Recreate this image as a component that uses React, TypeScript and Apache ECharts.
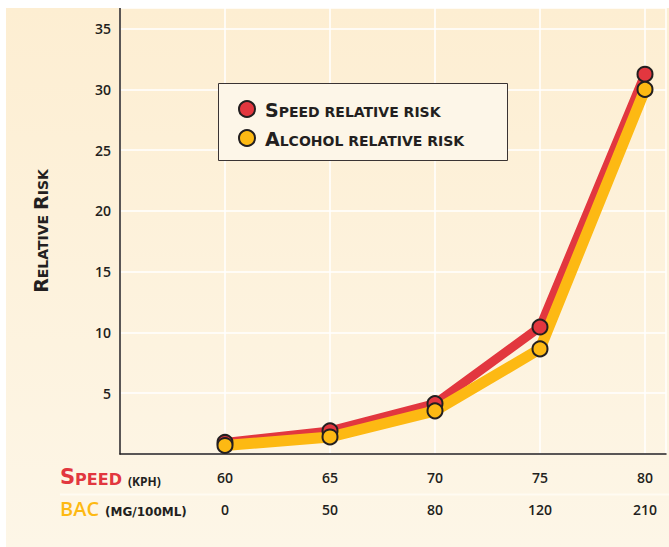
import React, { useEffect, useRef } from "react";
import * as echarts from "echarts";

const speeds = [60, 65, 70, 75, 80];
const bacLevels = [0, 50, 80, 120, 210];
const speedRisk = [0.95, 1.9, 4.15, 10.45, 31.25];
const alcoholRisk = [0.7, 1.4, 3.55, 8.65, 30.0];
const yTicks = [5, 10, 15, 20, 25, 30, 35];

const RED = "#e2373f";
const YELLOW = "#fdb913";
const DARK = "#231f20";
const FONT = "'Open Sans', sans-serif";
const CAPS = "'DejaVu Sans', sans-serif";

export default function App() {
  const ref = useRef<HTMLDivElement>(null);
  useEffect(() => {
    if (!ref.current) return;
    const chart = echarts.init(ref.current, null, { renderer: "svg" });
    const capsStyles = {
      b: { fontSize: 19, fontWeight: "bold", color: DARK, fontFamily: CAPS, lineHeight: 20, verticalAlign: "bottom" },
      s: { fontSize: 14, fontWeight: "bold", color: DARK, fontFamily: CAPS, lineHeight: 20, verticalAlign: "bottom" },
    };
    const axisCaps = {
      b: { fontSize: 19, fontWeight: "bold", color: DARK, fontFamily: CAPS, lineHeight: 20, verticalAlign: "bottom" },
      s: { fontSize: 14, fontWeight: "bold", color: DARK, fontFamily: CAPS, lineHeight: 20, verticalAlign: "bottom" },
    };
    const smallCaps = (t: string) => `{b|${t[0]}}{s|${t.slice(1).toUpperCase()}}`;
    chart.setOption({
      animation: false,
      backgroundColor: new echarts.graphic.LinearGradient(0, 0, 0, 1, [
        { offset: 0, color: "#fdeed2" },
        { offset: 1, color: "#fdf6e7" },
      ]),
      grid: { left: 114, right: 0, top: 0, bottom: 93 },
      xAxis: {
        type: "value",
        min: 55,
        max: 81,
        interval: 5,
        axisLine: { show: true, lineStyle: { color: DARK, width: 1.5 } },
        axisTick: { show: false },
        splitLine: { show: true, lineStyle: { color: "#ffffff", width: 1.5 } },
        axisLabel: {
          margin: 7,
          formatter: (v: number) => {
            const i = speeds.indexOf(v);
            return i < 0 ? "" : `{a|${speeds[i]}}\n{a|${bacLevels[i]}}`;
          },
          rich: {
            a: { fontSize: 14, fontWeight: 600, color: DARK, fontFamily: FONT, lineHeight: 32 },
          },
        },
      },
      yAxis: {
        type: "value",
        min: 0,
        max: 36.7,
        interval: 5,
        name: "{b|R}{s|ELATIVE }{b|R}{s|ISK}",
        nameLocation: "middle",
        nameRotate: 90,
        nameGap: 70,
        nameTextStyle: { rich: axisCaps },
        axisLine: { show: true, lineStyle: { color: DARK, width: 1.5 } },
        axisTick: { show: false },
        splitLine: { show: true, lineStyle: { color: "#ffffff", width: 1.5 } },
        axisLabel: {
          margin: 9,
          fontSize: 14,
          fontWeight: 600,
          color: DARK,
          fontFamily: FONT,
          formatter: (v: number) => (yTicks.indexOf(v) >= 0 ? String(v) : ""),
        },
      },
      legend: {
        z: 5,
        left: 232,
        top: 91,
        orient: "vertical",
        padding: 0,
        itemGap: 9,
        itemWidth: 26,
        itemHeight: 16,
        icon: "circle",
        formatter: (name: string) => smallCaps(name),
        textStyle: { rich: capsStyles, lineHeight: 20 },
        data: [
          { name: "Speed relative risk", itemStyle: { color: RED, borderColor: DARK, borderWidth: 2 } },
          { name: "Alcohol relative risk", itemStyle: { color: YELLOW, borderColor: DARK, borderWidth: 2 } },
        ],
      },
      graphic: [
        {
          type: "rect",
          z: 3,
          shape: { x: 212.5, y: 75.5, width: 289, height: 77 },
          style: { fill: "#fdf6e8", stroke: "#3a3333", lineWidth: 1 },
        },
        {
          type: "line",
          z: 1,
          shape: { x1: 54, y1: 486.5, x2: 663, y2: 486.5 },
          style: { stroke: "#fffbf2", lineWidth: 2 },
        },
        {
          type: "text",
          z: 3,
          x: 54,
          y: 479,
          style: {
            text: "{r|S}{rs|PEED}{k|(KPH)}",
            verticalAlign: "bottom",
            rich: {
              r: { fontSize: 21, fontWeight: "bold", fill: RED, fontFamily: CAPS, lineHeight: 22, verticalAlign: "bottom" },
              rs: { fontSize: 16, fontWeight: "bold", fill: RED, fontFamily: CAPS, lineHeight: 22, verticalAlign: "bottom" },
              k: { fontSize: 12, fontWeight: 700, fill: DARK, fontFamily: FONT, lineHeight: 22, verticalAlign: "bottom", padding: [0, 0, 0, 6] },
            },
          },
        },
        {
          type: "text",
          z: 3,
          x: 54,
          y: 510,
          style: {
            text: "{y|BAC}{k|(MG/100ML)}",
            verticalAlign: "bottom",
            rich: {
              y: { fontSize: 20, fontWeight: 600, fill: YELLOW, fontFamily: FONT, lineHeight: 22, verticalAlign: "bottom" },
              k: { fontSize: 12, fontWeight: "bold", fill: DARK, fontFamily: CAPS, lineHeight: 22, verticalAlign: "bottom", padding: [0, 0, 0, 6] },
            },
          },
        },
      ],
      series: [
        {
          name: "Speed relative risk",
          type: "line",
          data: speeds.map((s, i) => [s, speedRisk[i]]),
          symbol: "circle",
          symbolSize: 15,
          lineStyle: { color: RED, width: 9 },
          itemStyle: { color: RED, borderColor: DARK, borderWidth: 2 },
        },
        {
          name: "Alcohol relative risk",
          type: "line",
          data: speeds.map((s, i) => [s, alcoholRisk[i]]),
          symbol: "circle",
          symbolSize: 15,
          lineStyle: { color: YELLOW, width: 11 },
          itemStyle: { color: YELLOW, borderColor: DARK, borderWidth: 2 },
        },
      ],
    });
    return () => chart.dispose();
  }, []);
  return (
    <div
      ref={ref}
      style={{ position: "absolute", left: 6, top: 8, width: 663, height: 539 }}
    />
  );
}
